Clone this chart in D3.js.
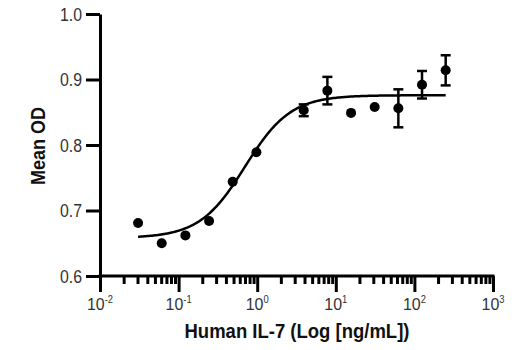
<!DOCTYPE html>
<html><head><meta charset="utf-8">
<script src="https://cdn.jsdelivr.net/npm/d3@7"></script>
<style>body{margin:0;background:#fff}</style>
</head><body>
<svg id="c" width="520" height="350"></svg>
<script>
// Data (concentration ng/mL, mean OD, SEM)
const conc  = [0.0305, 0.061, 0.122, 0.244, 0.488, 0.977, 3.906, 7.8125, 15.625, 31.25, 62.5, 125, 250];
const od    = [0.681, 0.650, 0.662, 0.684, 0.744, 0.789, 0.853, 0.883, 0.849, 0.858, 0.856, 0.892, 0.914];
const err   = [0, 0, 0, 0, 0, 0, 0.009, 0.021, 0, 0, 0.029, 0.021, 0.023];
// 4-parameter logistic fit: bottom, top, EC50, Hill slope
const fitParams = [0.658, 0.876, 0.70, 1.5];
const fitRange = [0.0305, 250];
const yTicks = [0.6, 0.7, 0.8, 0.9, 1.0];
const xDecades = [-2, -1, 0, 1, 2, 3];

const svg = d3.select("#c");
const x = d3.scaleLog().domain([0.01, 1000]).range([100, 493]);
const y = d3.scaleLinear().domain([0.6, 1.0]).range([276, 14]);
const font = "'Liberation Sans', Arial, sans-serif";

// Y axis
const ya = svg.append("g").attr("transform", "translate(100,0)")
  .call(d3.axisLeft(y).tickValues(yTicks).tickFormat(d3.format(".1f")).tickSize(14).tickSizeOuter(0).tickPadding(4));
ya.select(".domain").attr("stroke-width", 3).attr("stroke", "#000");
ya.selectAll(".tick line").attr("stroke-width", 3).attr("stroke", "#000");
ya.selectAll(".tick text").attr("font-family", font).attr("font-size", 18).attr("fill", "#333")
  .attr("dy", "0.36em").attr("textLength", 22).attr("lengthAdjust", "spacingAndGlyphs");

// X axis ticks (major + minor)
const allTicks = [];
const isMajor = [];
xDecades.forEach(d => {
  allTicks.push(Math.pow(10, d)); isMajor.push(true);
  if (d < 3) for (let m = 2; m <= 9; m++) { allTicks.push(m * Math.pow(10, d)); isMajor.push(false); }
});
const xa = svg.append("g").attr("transform", "translate(0,276)")
  .call(d3.axisBottom(x).tickValues(allTicks).tickFormat("").tickSizeOuter(0));
xa.select(".domain").attr("stroke-width", 3).attr("stroke", "#000").attr("d", "M98.5,0H494.5");
xa.selectAll(".tick line")
  .attr("stroke-width", 3).attr("stroke", "#000")
  .attr("y2", (d, i) => isMajor[i] ? 16 : 8);

// X tick labels with superscripts
xDecades.forEach(d => {
  const t = svg.append("text")
    .attr("x", x(Math.pow(10, d))).attr("y", 310)
    .attr("text-anchor", "middle")
    .attr("font-family", font).attr("font-size", 17).attr("fill", "#333")
    .attr("textLength", d < 0 ? 26 : 23).attr("lengthAdjust", "spacingAndGlyphs");
  t.append("tspan").text("10");
  t.append("tspan").attr("font-size", 10).attr("dy", -7).text(d < 0 ? "-" + Math.abs(d) : String(d));
});

// Fitted curve
const [fBot, fTop, fEc50, fHill] = fitParams;
const f = c => fBot + (fTop - fBot) / (1 + Math.pow(fEc50 / c, fHill));
const curveX = d3.range(0, 201).map(i => Math.pow(10, Math.log10(fitRange[0]) + i / 200 * (Math.log10(fitRange[1]) - Math.log10(fitRange[0]))));
svg.append("path")
  .attr("d", d3.line().x(c => x(c)).y(c => y(f(c)))(curveX))
  .attr("fill", "none").attr("stroke", "#000").attr("stroke-width", 2.5);

// Error bars
const data = conc.map((c, i) => ({c, v: od[i], e: err[i]}));
const eb = svg.append("g").selectAll("g").data(data.filter(d => d.e > 0)).join("g");
eb.append("line").attr("x1", d => x(d.c)).attr("x2", d => x(d.c))
  .attr("y1", d => y(d.v + d.e)).attr("y2", d => y(d.v - d.e))
  .attr("stroke", "#000").attr("stroke-width", 2.5);
[1, -1].forEach(s => {
  eb.append("line").attr("x1", d => x(d.c) - 5).attr("x2", d => x(d.c) + 5)
    .attr("y1", d => y(d.v + s * d.e)).attr("y2", d => y(d.v + s * d.e))
    .attr("stroke", "#000").attr("stroke-width", 2.5);
});

// Points
svg.append("g").selectAll("circle").data(data).join("circle")
  .attr("cx", d => x(d.c)).attr("cy", d => y(d.v)).attr("r", 5).attr("fill", "#000");

// Axis titles
svg.append("text").attr("x", 297).attr("y", 338).attr("text-anchor", "middle")
  .attr("font-family", font).attr("font-weight", "bold").attr("font-size", 19.5).attr("fill", "#111")
  .attr("textLength", 225).attr("lengthAdjust", "spacingAndGlyphs")
  .text("Human IL-7 (Log [ng/mL])");
svg.append("text").attr("transform", "translate(45,146) rotate(-90)").attr("text-anchor", "middle")
  .attr("font-family", font).attr("font-weight", "bold").attr("font-size", 19.5).attr("fill", "#111")
  .attr("textLength", 78).attr("lengthAdjust", "spacingAndGlyphs")
  .text("Mean OD");
</script>
</body></html>
